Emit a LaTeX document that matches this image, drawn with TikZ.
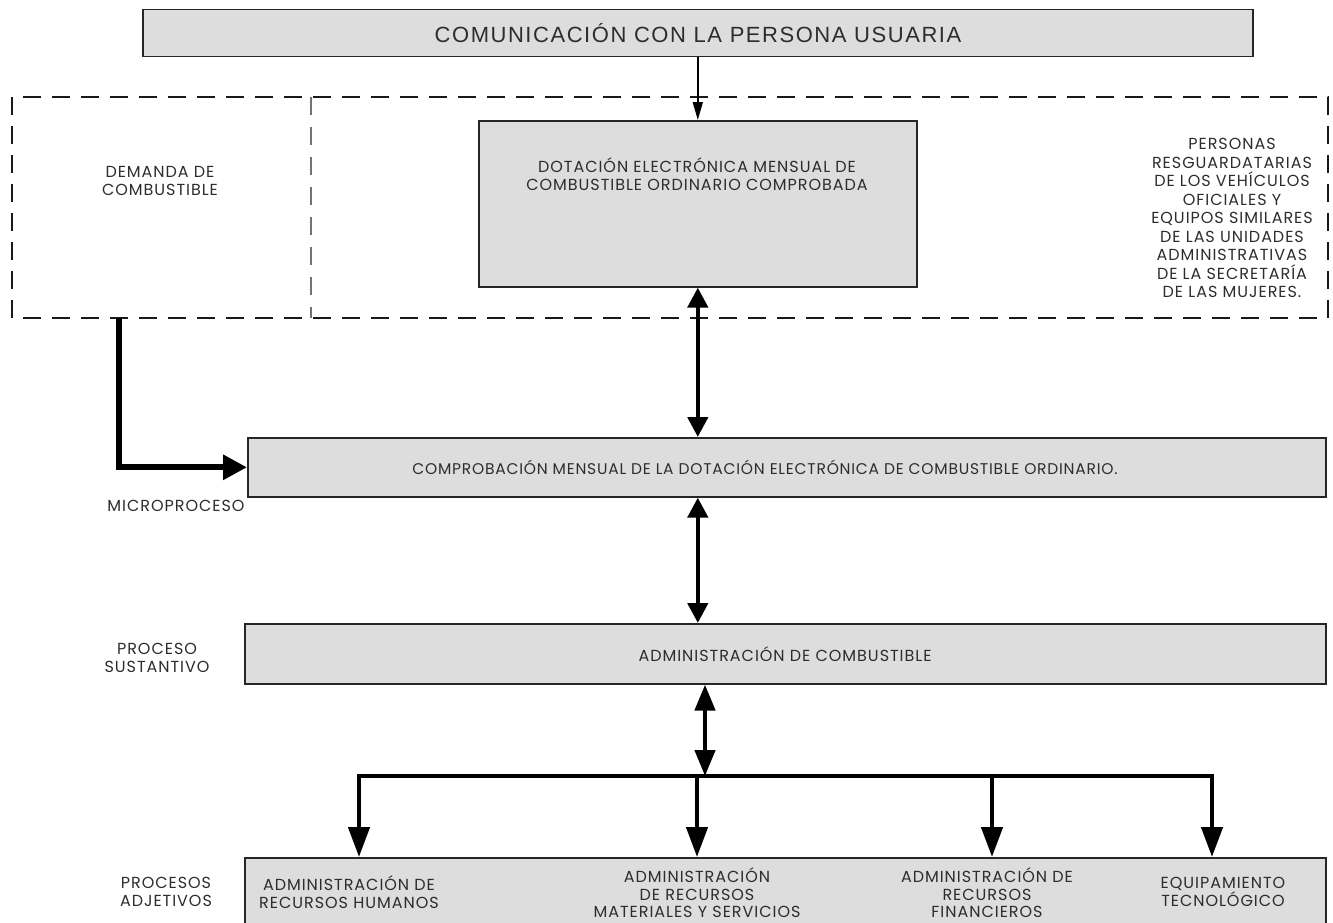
\documentclass[tikz,border=0pt]{standalone}
\usepackage{fontspec}
\setmainfont{Poppins}[LetterSpace=6]
\newfontfamily\topfont{Liberation Sans}[LetterSpace=7]
\newfontfamily\compfont{Poppins}[LetterSpace=5]
\usetikzlibrary{arrows.meta}
\definecolor{boxgray}{RGB}{221,221,221}
\definecolor{txt}{RGB}{45,45,45}
\begin{document}
\begin{tikzpicture}[x=1pt,y=-1pt,
  box/.style={draw=black!85, line width=1.6pt, fill=boxgray, inner sep=0pt},
  lbl/.style={font=\fontsize{16}{17.5}\selectfont, text=txt, align=center, inner sep=0pt},
  dashline/.style={draw=black!90, line width=2.6pt, dash pattern=on 18pt off 11pt},
  divline/.style={draw=black!55, line width=2pt, dash pattern=on 18pt off 12pt},
  thinarrow/.style={line width=1.6pt, -{Triangle[length=18pt,width=10pt]}},
  dblarrow/.style={line width=4.5pt, {Triangle[length=20pt,width=20pt]}-{Triangle[length=20pt,width=20pt]}},
  dblarrowb/.style={line width=4.5pt, {Triangle[length=26pt,width=20pt]}-{Triangle[length=26pt,width=20pt]}},
  larrow/.style={line width=6pt, -{Triangle[length=24pt,width=24pt]}},
  droparrow/.style={line width=4.5pt, -{Triangle[length=30pt,width=21pt]}},
  busline/.style={line width=4.5pt}]
\useasboundingbox (0,0) rectangle (1333,922);

% top box
\node[box, minimum width=1110pt, minimum height=47pt, font=\topfont\fontsize{22}{26}\selectfont, text=txt] (top) at (698,33) {COMUNICACIÓN CON LA PERSONA USUARIA};

% dashed region
\draw[dashline] (12,97) rectangle (1328,318);
\draw[divline] (311,97) -- (311,318);
\node[lbl] (dem) at (160,181) {DEMANDA DE\\COMBUSTIBLE};
\node[lbl, font=\fontsize{16}{18.5}\selectfont] (pers) at (1232,218) {PERSONAS\\RESGUARDATARIAS\\DE LOS VEHÍCULOS\\OFICIALES Y\\EQUIPOS SIMILARES\\DE LAS UNIDADES\\ADMINISTRATIVAS\\DE LA SECRETARÍA\\DE LAS MUJERES.};

% dotacion box
\node[box, minimum width=438pt, minimum height=166pt, anchor=north west] (dot) at (478,120) {};
\node[lbl] (dottxt) at (697,174) {DOTACIÓN ELECTRÓNICA MENSUAL DE\\COMBUSTIBLE ORDINARIO COMPROBADA};

% comprobacion box
\node[box, minimum width=1078pt, minimum height=59pt, anchor=north west] (comp) at (247,437) {};
\node[lbl, font=\compfont\fontsize{15.5}{17}\selectfont] (comptxt) at (765,467) {COMPROBACIÓN MENSUAL DE LA DOTACIÓN ELECTRÓNICA DE COMBUSTIBLE ORDINARIO.};
\node[lbl] (micro) at (176,506) {MICROPROCESO};

% administracion de combustible
\node[box, minimum width=1081pt, minimum height=60pt, anchor=north west] (adm) at (244,623) {};
\node[lbl] (admtxt) at (785,654) {ADMINISTRACIÓN DE COMBUSTIBLE};
\node[lbl] (sust) at (157,658) {PROCESO\\SUSTANTIVO};

% procesos adjetivos
\node[box, minimum width=1081pt, minimum height=90pt, anchor=north west] (adj) at (244,857) {};
\node[lbl] (adjlbl) at (166,892) {PROCESOS\\ADJETIVOS};
\node[lbl] (rh) at (349,892) {ADMINISTRACIÓN DE\\RECURSOS HUMANOS};
\node[lbl] (rm) at (697,893) {ADMINISTRACIÓN\\DE RECURSOS\\MATERIALES Y SERVICIOS};
\node[lbl] (rf) at (987,893) {ADMINISTRACIÓN DE\\RECURSOS\\FINANCIEROS};
\node[lbl] (tec) at (1223,892) {EQUIPAMIENTO\\TECNOLÓGICO};

% connectors
\coordinate (demout) at (119,318);
\coordinate (bus) at (705,776);
\coordinate (b1) at (359,776);
\coordinate (b2) at (697,776);
\coordinate (b3) at (992,776);
\coordinate (b4) at (1212,776);

\draw[thinarrow] (top.south -| dot.north) -- (dot.north);
\draw[larrow] (demout) |- (comp.west);
\draw[dblarrow] (dot.south) -- (dot.south |- comp.north);
\draw[dblarrow] (dot.south |- comp.south) -- (dot.south |- adm.north);
\draw[dblarrowb] (bus |- adm.south) -- (bus);
\draw[busline] ([xshift=-2.25pt]b1) -- ([xshift=2.25pt]b4);
\draw[droparrow] (b1) -- (b1 |- adj.north);
\draw[droparrow] (b2) -- (b2 |- adj.north);
\draw[droparrow] (b3) -- (b3 |- adj.north);
\draw[droparrow] (b4) -- (b4 |- adj.north);
\end{tikzpicture}
\end{document}
